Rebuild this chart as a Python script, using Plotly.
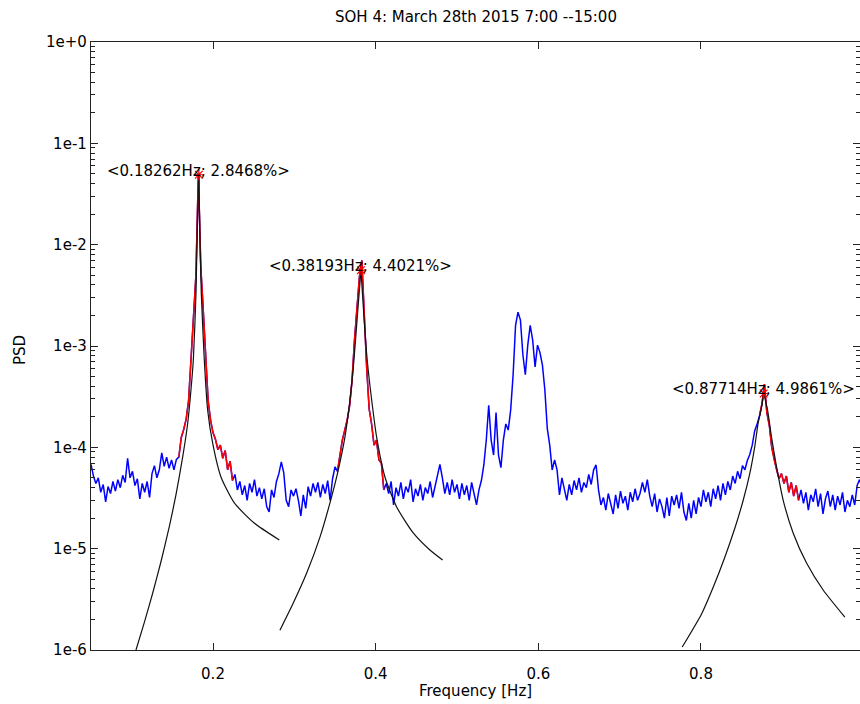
import numpy as np
import plotly.graph_objects as go

title_text = "SOH 4: March 28th 2015 7:00 --15:00"
x_title = "Frequency [Hz]"
y_title = "PSD"

# Measured spectrum: uniform frequency grid, PSD given in units of 1e-5
freq_start = 0.05
freq_step = 0.003
psd_e5 = [
    6.8, 5.2, 4.4, 5.0, 3.6, 4.3, 2.9, 4.1, 3.5, 4.6,
    3.7, 4.8, 4.0, 5.3, 4.5, 7.8, 5.0, 5.8, 4.2, 4.9,
    3.1, 4.4, 3.6, 4.6, 3.2, 5.5, 6.6, 5.0, 6.0, 8.8,
    6.5, 8.0, 6.2, 7.5, 6.0, 7.6, 8.0, 12.5, 15, 19,
    29, 72, 180, 500, 5000, 600, 226, 80, 29, 18.6,
    14, 12, 9.5, 10.5, 7.8, 9.3, 6.0, 7.3, 4.7, 5.4,
    3.8, 4.6, 3.4, 4.2, 3.0, 4.4, 3.6, 4.8, 3.3, 4.0,
    3.1, 3.9, 2.6, 2.3, 3.8, 3.2, 4.6, 5.5, 7.2, 5.6,
    3.0, 2.6, 3.8, 3.3, 3.9, 3.0, 2.1, 3.4, 2.5, 4.1,
    3.3, 4.4, 3.6, 4.5, 3.2, 4.3, 3.5, 4.7, 3.0, 4.9,
    6.4, 5.8, 8.4, 11.8, 14.8, 18.6, 26, 46, 115, 230,
    480, 700, 200, 60, 24, 17, 10.5, 11.8, 7.5, 7.0,
    3.8, 4.4, 3.5, 4.6, 2.7, 4.0, 3.3, 4.5, 3.1, 4.1,
    3.6, 4.8, 2.9, 3.9, 3.3, 4.3, 3.0, 4.0, 3.5, 4.6,
    3.2, 4.1, 5.0, 6.8, 5.0, 3.5, 4.5, 3.4, 4.8, 3.6,
    4.3, 3.1, 4.4, 3.4, 4.2, 3.0, 4.5, 3.6, 2.7, 3.8,
    4.7, 6.7, 11.8, 26, 11.8, 8.4, 22, 8.4, 6.3, 11.8,
    17, 14.8, 23.4, 52, 160, 216, 180, 82, 52, 102,
    160, 115, 62, 102, 86, 65, 37, 15.4, 10.5, 6.0,
    7.5, 6.0, 3.4, 5.0, 4.0, 3.0, 4.3, 3.4, 4.7, 3.8,
    5.0, 3.6, 4.5, 4.0, 5.4, 4.3, 6.0, 6.7, 3.8, 2.7,
    3.2, 2.4, 3.5, 2.7, 2.2, 3.4, 2.5, 3.7, 2.8, 3.3,
    2.4, 3.6, 2.9, 3.9, 3.0, 3.5, 4.5, 3.6, 4.8, 3.3,
    2.6, 3.5, 2.3, 3.1, 2.6, 2.0, 3.2, 2.1, 3.3, 2.7,
    3.4, 2.5, 3.6, 2.3, 1.9, 2.8, 2.0, 3.0, 2.2, 3.2,
    2.6, 3.8, 2.9, 3.6, 2.6, 3.9, 3.1, 4.2, 3.0, 4.4,
    3.4, 4.6, 3.8, 5.2, 4.4, 5.8, 4.9, 6.6, 6.0, 7.4,
    8.5, 10.5, 14.5, 17, 20.5, 27, 42, 22, 16.5, 10,
    7.5, 6.0, 4.9, 5.5, 4.4, 5.2, 3.6, 4.5, 3.3, 4.2,
    3.0, 3.8, 2.8, 3.6, 2.4, 3.4, 2.9, 3.9, 2.6, 3.5,
    2.2, 3.1, 3.7, 2.6, 3.4, 2.4, 3.3, 2.7, 3.6, 2.3,
    3.0, 2.6, 3.4, 2.7, 4.2, 4.8, 4.0,
]

# Identified modes: natural frequency [Hz], damping ratio [%], peak PSD
peak_freq = [0.18262, 0.38193, 0.87714]
peak_damping = [2.8468, 4.4021, 4.9861]
peak_psd = [4.9e-2, 5.6e-3, 3.4e-4]

# Frequency bands used for each fit (highlighted in red)
fit_bands = [(0.157, 0.2245), (0.3525, 0.4115), (0.8715, 0.9205)]

# Fitted single-mode curves: branch below and above each peak
fit_lo_freq = [
    [0.1053, 0.1155, 0.1258, 0.1360, 0.1462, 0.1545, 0.1627, 0.1689, 0.1729, 0.1758, 0.1791, 0.1807],
    [0.2823, 0.2987, 0.3152, 0.3315, 0.3438, 0.3540, 0.3622, 0.3684, 0.3733, 0.3774],
    [0.7769, 0.8007, 0.8150, 0.8294, 0.8417, 0.8518, 0.8601, 0.8662, 0.8703, 0.8745],
]
fit_lo_psd = [
    [1.0e-6, 1.86e-6, 3.63e-6, 7.43e-6, 1.64e-5, 3.41e-5, 8.01e-5, 1.73e-4, 3.68e-4, 7.28e-4, 3.34e-3, 1.49e-2],
    [1.57e-6, 2.91e-6, 5.75e-6, 1.30e-5, 2.83e-5, 5.97e-5, 1.26e-4, 2.93e-4, 7.28e-4, 1.93e-3],
    [1.07e-6, 2.27e-6, 4.16e-6, 8.29e-6, 1.60e-5, 2.99e-5, 5.58e-5, 1.03e-4, 1.74e-4, 2.50e-4],
]
fit_hi_freq = [
    [0.1837, 0.1856, 0.1893, 0.1934, 0.1996, 0.2098, 0.2262, 0.2507, 0.2815],
    [0.3856, 0.3896, 0.3951, 0.4012, 0.4114, 0.4258, 0.4462, 0.4667, 0.4823],
    [0.8818, 0.8867, 0.8929, 0.9010, 0.9133, 0.9298, 0.9502, 0.9769],
]
fit_hi_psd = [
    [1.49e-2, 3.34e-3, 7.28e-4, 2.34e-4, 1.10e-4, 5.10e-5, 2.83e-5, 1.79e-5, 1.22e-5],
    [1.93e-3, 7.28e-4, 2.93e-4, 1.26e-4, 5.10e-5, 2.58e-5, 1.43e-5, 9.70e-6, 7.72e-6],
    [2.34e-4, 1.26e-4, 6.40e-5, 3.02e-5, 1.43e-5, 7.21e-6, 3.91e-6, 2.11e-6],
]

x_ticks = [0.2, 0.4, 0.6, 0.8]
y_tick_exp = [0, -1, -2, -3, -4, -5, -6]

FONT = "DejaVu Sans"
FS = 15

freq = freq_start + freq_step * np.arange(len(psd_e5))
psd = np.array(psd_e5) * 1e-5

fig = go.Figure()

# full spectrum
fig.add_trace(go.Scatter(x=freq, y=psd, mode="lines",
                         line=dict(color="#0000ff", width=1.5), hoverinfo="skip"))

# fitted bands in red
in_band = np.zeros(len(freq), dtype=bool)
for lo, hi in fit_bands:
    in_band |= (freq >= lo) & (freq <= hi)
red_psd = np.where(in_band, psd, np.nan)
fig.add_trace(go.Scatter(x=freq, y=red_psd, mode="lines", connectgaps=False,
                         line=dict(color="#ff0000", width=1.5), hoverinfo="skip"))

# fitted curves, each branch ending at the identified peak
for i in range(len(peak_freq)):
    lo_x = fit_lo_freq[i] + [peak_freq[i]]
    lo_y = fit_lo_psd[i] + [peak_psd[i]]
    hi_x = [peak_freq[i]] + fit_hi_freq[i]
    hi_y = [peak_psd[i]] + fit_hi_psd[i]
    for bx, by in ((lo_x, lo_y), (hi_x, hi_y)):
        fig.add_trace(go.Scatter(x=bx, y=by, mode="lines",
                                 line=dict(color="#111111", width=1.2, shape="spline", smoothing=0.6),
                                 hoverinfo="skip"))

# peak markers
fig.add_trace(go.Scatter(x=peak_freq, y=peak_psd, mode="markers",
                         marker=dict(symbol="asterisk-open", size=9, color="#ff0000",
                                     line=dict(color="#ff0000", width=1.2)),
                         hoverinfo="skip"))

annotations = []
for f, d, p in zip(peak_freq, peak_damping, peak_psd):
    annotations.append(dict(
        x=f, y=np.log10(p), xref="x", yref="y",
        text=f"&lt;{f:.5f}Hz; {d:.4f}%&gt;",
        showarrow=False, xanchor="center", yanchor="middle", yshift=4,
        font=dict(family=FONT, size=FS, color="#000000"),
    ))

annotations.append(dict(text=title_text, xref="paper", yref="paper", x=0.5, y=1 + 25 / 608,
                        xanchor="center", yanchor="middle", showarrow=False,
                        font=dict(family=FONT, size=FS, color="#000000")))
annotations.append(dict(text=x_title, xref="paper", yref="paper", x=0.5, y=-41 / 608,
                        xanchor="center", yanchor="middle", showarrow=False,
                        font=dict(family=FONT, size=FS, color="#000000")))
annotations.append(dict(text=y_title, xref="paper", yref="paper", x=-71 / 769, y=(650 - 350) / 608,
                        xanchor="center", yanchor="middle", showarrow=False, textangle=-90,
                        font=dict(family=FONT, size=FS, color="#000000")))

minor_vals = [m * 10.0 ** e for e in range(-6, 0) for m in range(2, 10)]

axis_line = dict(showline=True, linecolor="#222222", linewidth=1.3, mirror="ticks",
                 ticks="inside", ticklen=7, tickwidth=1, tickcolor="#222222",
                 showgrid=False, zeroline=False,
                 tickfont=dict(family=FONT, size=FS, color="#000000"))

fig.update_layout(
    width=860, height=704,
    margin=dict(l=91, r=0, t=42, b=54),
    paper_bgcolor="white", plot_bgcolor="white",
    showlegend=False,
    annotations=annotations,
    xaxis=dict(range=[0.05, 0.9955], tickvals=x_ticks, ticktext=[f"{v:g}" for v in x_ticks],
               ticklabelstandoff=10, **axis_line),
    yaxis=dict(type="log", range=[-6, 0], tickvals=[10.0 ** e for e in y_tick_exp],
               ticktext=[f"1e{e:+d}" if e == 0 else f"1e{e}" for e in y_tick_exp],
               minor=dict(tickvals=minor_vals, ticks="inside", ticklen=4,
                          tickcolor="#222222", tickwidth=1),
               **axis_line),
)

fig.write_html("out.html")
